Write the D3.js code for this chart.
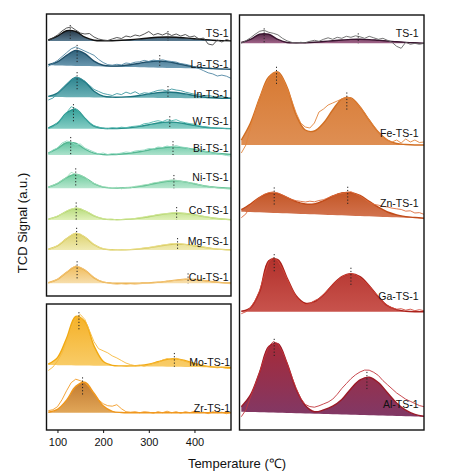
<!DOCTYPE html>
<html><head><meta charset="utf-8">
<script src="https://cdn.jsdelivr.net/npm/d3@7"></script>
<style>body{margin:0;background:#fff}svg{display:block;font-family:Arial,"Liberation Sans",sans-serif}</style>
</head><body><svg id="c" width="473" height="476"></svg>
<script>
// ---------------- DATA ----------------
const fitT = [80,100,120,140,160,180,200,220,240,260,280,300,320,340,360,380,400,420,440,460,480];
const rawT = [80,90,100,110,120,130,140,150,160,170,180,190,200,210,220,230,240,250,260,270,280,290,300,310,320,330,340,350,360,370,380,390,400,410,420,430,440,450,460,470,480];
const xTicks = [100,200,300,400];

const seriesNames = ["TS-1","La-TS-1","In-TS-1","W-TS-1","Bi-TS-1","Ni-TS-1","Co-TS-1","Mg-TS-1","Cu-TS-1","Mo-TS-1","Zr-TS-1","TS-1","Fe-TS-1","Zn-TS-1","Ga-TS-1","Al-TS-1"];
const seriesPanel = ["tl","tl","tl","tl","tl","tl","tl","tl","tl","bl","bl","r","r","r","r","r"];
// stacking offset of each trace (a.u.)
const seriesOffset = [255,228.7,198.5,167.3,141,107.7,76,46,12.7,64,17.3,386.7,285,215,118.3,15.8];
// baseline drift at 80 and 480 C (a.u.)
const seriesDrift = [[0,0],[2,-2],[0.5,-1],[0,0],[0,0],[0,0],[0,0],[0,0],[0,0],[1,-1.5],[0,0],[0,0],[0,0],[3.3,-3.3],[0,0],[2.5,-2.5]];
// peak positions (C)
const seriesPeaks = [[128,342],[143,324],[143,342],[135,346],[129,353],[140,355],[141,361],[142,363],[143,386],[147,356],[155],[130,336],[157,311],[152,313],[152,320],[152,355]];

// fitted curves (a.u. above baseline) at fitT
const fit_TS1 = [1.0,4.9,10.3,9.5,3.8,0.8,0.2,0.3,0.7,1.3,2.1,3.0,3.7,4.0,3.8,3.1,2.3,1.5,0.8,0.4,0.2];
const fit_La  = [0.7,3.6,10.3,15.5,12.5,5.2,1.2,0.7,1.2,2.4,4.1,5.8,6.7,6.3,4.9,3.1,1.6,0.7,0.3,0.1,0];
const fit_In  = [0.6,4,12.6,19.8,15.6,6.1,1.4,0.4,0.5,1.1,2.3,3.9,5.3,6,5.5,4.2,2.6,1.3,0.6,0.2,0.1];
const fit_W   = [0.9,5.6,15.9,19.5,10.5,2.5,0.4,0.2,0.4,1.1,2.3,4,5.7,6.6,6.3,5,3.3,1.7,0.8,0.3,0.1];
const fit_Bi  = [1.9,6.7,12.2,11.8,6,1.8,0.4,0.4,1,1.9,3.3,5,6.7,7.8,7.9,7.1,5.6,3.8,2.3,1.2,0.6];
const fit_Ni  = [1.2,4.7,10.6,14,10.6,4.7,1.2,0.2,0.3,0.8,1.9,3.5,5.5,7.1,7.4,6.4,4.5,2.6,1.3,0.5,0.2];
const fit_Co  = [0.9,3.7,8.7,11.7,9.1,4.1,1.1,0.4,0.4,0.9,1.9,3.3,5,6.4,7,6.5,5.2,3.5,2,1,0.4];
const fit_Mg  = [0.8,4.1,11.3,16.6,12.9,5.3,1.1,0.2,0.1,0.4,1.1,2.2,3.8,5.3,6,5.6,4.3,2.7,1.4,0.6,0.2];
const fit_Cu  = [0.7,3.9,11,16.6,13.2,5.5,1.2,0.2,0.1,0.1,0.2,0.4,1,2.1,3.2,4,3.8,2.8,1.6,0.7,0.3];
const fit_Mo  = [1,7.5,27,49,44,19.8,4.4,0.5,0.1,0.2,0.8,2.2,4.7,7.2,7.9,6.3,3.6,1.5,0.4,0.1,0];
const fit_Zr  = [0.5,3.3,12.6,26.3,30.4,19.5,6.9,1.4,0.2,0,0,0,0,0,0,0,0,0,0,0,0];
const fit_TS1r= [0.8,3.9,9,9,3.9,0.8,0.4,0.6,1.1,1.8,2.6,3.3,3.9,4,3.7,3,2.3,1.5,0.9,0.5,0.2];
const fit_Fe  = [5,22,47,68,73,58,30,15,14,22,35,46,47,38,25,13,5,1.5,0.5,0,0];
const fit_Zn  = [2,8,15,19.5,19.5,16,12,10,10.5,14,19,22.5,23,20.5,15,9.5,5,2.5,1,0.4,0];
const fit_Ga  = [0.5,4,20,51,52,34,16,8.5,10,17,27,35,38,35,26,15,6,2,0.5,0,0];
const fit_Al  = [5,17,40,66,69,50,24,8,2,4,8,15,26,35,38,33,23,13,6,2,0.5];

// measured signals (a.u. above baseline) at rawT
const raw_TS1 = [0.5,3,6,10,13,14,11,8,7,7.5,4,2,1,0.5,2,3.5,2.5,5,4,6,5,7,9.5,6,7.5,6,8,5.5,7,5,6.5,4,5,2,3,-3,-4,1,-1,1.5,0];
const raw_La  = [-1,2,5,9,13,17,19,17,15,13,11,7,4,2,1.5,2.5,2,4,3.5,5,5.5,7,6,7.5,7,8,7,6.5,6,4.5,4,3,1.5,0,-2,-4,-5,-7,-6,-7,-9];
const raw_In  = [-3,-1,3,8,13,17,20,19,16,12,8,6,4,3,2,4,3,5.5,4,6,3.5,5,4.5,6,7.5,8,7,9,8,7.5,6,5,4,3.5,2.5,3,2,1.5,2,1,0.5];
const raw_W   = [0,2,6,10,16,22,20,15,10,6,3,1.5,0.5,0,1,0.5,1.5,1,2,2.5,3,5,5.5,7,8,7,9,8,9,7,6,5,4.5,3,2,1.5,1,0.5,0.5,0,0];
const raw_Bi  = [1,5,7,12,14,13,10,11,7,5,3,1,2,0.5,1.5,1,2,3,2.5,4,4.5,5,6.5,6,8,7.5,9,8,9.5,8,7.5,6,6.5,4.5,4,3,2,1.5,0.5,-0.5,-1];
const raw_Ni  = [1,3,5,8,11,16,14,13,11,7,5,3,1.5,1,0,1,-0.5,1,0.5,2,2.5,3.5,4,5.5,6,7,7.5,8.5,8,7,6.5,5.5,5,3.5,2.5,2,1,0.5,0,-0.5,-1];
const raw_Co  = [0.5,2,4,6,9,11,12,11.5,9,7,4.5,2.5,1.5,0.5,1,0,0.5,1,1,1.5,2.5,3,4,4.5,5.5,6,6.5,7,7.5,7,6.5,6,5,4.5,3.5,3,2,1.5,1,0.5,0];
const raw_Mg  = [0.5,2,4.5,8,11.5,15,17,16,13,9.5,5.5,3,1.5,0.5,0,0.5,0,0.5,0.5,1,1.5,2,2.5,3.5,4,5,5.5,6.5,6,6.5,5.5,5,4.5,3.5,3,2,1.5,1,0.5,0,0];
const raw_Cu  = [0,2,4,7.5,11,15,17.5,16,13.5,9.5,6,3,1.5,0.5,-0.5,-1,-0.5,-1,-0.5,-1,-0.5,0,0,0.5,1,1.5,2,2.5,3,3.5,4,4,3.5,3.5,3,2,1.5,1,0.5,0,-0.5];
const raw_Mo  = [-5.5,-2,4,12,24,37,47,51,46,35,24,17,15,13,10,8,5.5,3,1.5,0.5,1,0,1.5,3,4,6.5,8,7,8.5,7,5.5,4,3,2,1,0.5,0,-0.5,0,-1,-1];
const raw_Zr  = [2,3,6,13,22,30,33.5,32,30,25,19,13,9,7,6.5,8,4,1,0.5,1,0,1,0.5,-0.5,1,0,1.5,0,1,-0.5,1,0,1.5,0,0.5,-1,1,0,0.5,-1,0.5];
const raw_TS1r= [0,2.5,5.5,9,12,13,11,10,8.5,5,2.5,1,0,1,0.5,2,3,2,4,5.5,4,6,5,7,6,7.5,6.5,5,7,5.5,4,5,3,1,-3,-5,1,-1,0,-1,0];
const raw_Fe  = [-8,0,17,33,47,58,67,72,73,67,57,45,32,22,18,17,22,33,36,40,42,44,46,48,47,43,38,32,25,19,13,8,5,3,5,2,6,3,5,2.5,3];
const raw_Zn  = [-6,-2,6,11,15,18,20,21,20,18,16,14,13,12.5,12,13,12.5,14,15,17,19,21,22,23,24,22,20,17,14,12,11.5,10.5,10,9,8.5,8,6.5,7,5,5.5,4];
const raw_Ga  = [-2,0,4,11,21,36,50,54,51,43,33,23,15,10,7,8,11,13,17,22,27,31,35,37,38,37,34,30,26,20,15,10,6,4,2.5,3,1.5,2.5,1,2,1];
const raw_Al  = [-5,2,15,27,40,54,66,71,69,61,50,37,25,15,9,7,6.5,8,10,12,15,20,26,31,36,40,43,45,45,43,40,35,31,27,23,20,17,15,13,11,10];

const seriesFit = [fit_TS1,fit_La,fit_In,fit_W,fit_Bi,fit_Ni,fit_Co,fit_Mg,fit_Cu,fit_Mo,fit_Zr,fit_TS1r,fit_Fe,fit_Zn,fit_Ga,fit_Al];
const seriesRaw = [raw_TS1,raw_La,raw_In,raw_W,raw_Bi,raw_Ni,raw_Co,raw_Mg,raw_Cu,raw_Mo,raw_Zr,raw_TS1r,raw_Fe,raw_Zn,raw_Ga,raw_Al];

// ---------------- STYLE / LAYOUT ----------------
const fillTop = ["#152838","#205571","#1c7a86","#279a93","#55bf99","#66c898","#b3d974","#dacf63","#efb750","#f4ab18","#bd7020","#48193a","#d46f22","#bf4a16","#ad221c","#a01a29"];
const fillBot = ["#4f7289","#6a9bb4","#64aeb3","#7bc9bf","#a6e0c8","#b0e5ca","#def0b4","#efe9ad","#f6dca6","#f8c95e","#dfa04c","#9a5880","#dc8646","#d06a44","#c4463f","#77295a"];
const strokeC = ["#111","#1f4f69","#1d737e","#27918b","#55b893","#62c194","#b0d46e","#d6c95f","#eab04a","#f1a912","#ef961b","#3a1530","#d06e22","#c04a18","#ab221c","#9a1a28"];
const rawC    = ["#444","#4f86a3","#3f9aa1","#4fb6ad","#90d9bf","#9edcb9","#d2e696","#ebe08c","#f3c57a","#f6b93c","#f39b24","#666","#e2843c","#dc6c3c","#d04a3c","#c2363c"];
const labelLift = [8,5,4.5,8,7,11,10,9.3,6.6,5,4.7,10,12,15,15.7,12];

const panels = {
  tl:{x0:46.5,x1:231,y0:14,y1:296,labelX:228.5},
  bl:{x0:46.5,x1:231,y0:304,y1:430,labelX:230},
  r: {x0:239.5,x1:424,y0:15,y1:430,labelX:418.5}
};
const xDomain = [76,480];

const svg = d3.select("#c");
const defs = svg.append("defs");

Object.entries(panels).forEach(([k,p])=>{
  p.x = d3.scaleLinear().domain(xDomain).range([p.x0,p.x1]);
  p.y = d3.scaleLinear().domain([0,p.y1-p.y0]).range([p.y1,p.y0]);
  defs.append("clipPath").attr("id","clip-"+k).append("rect")
    .attr("x",p.x0).attr("y",p.y0).attr("width",p.x1-p.x0).attr("height",p.y1-p.y0);
  p.g = svg.append("g").attr("clip-path",`url(#clip-${k})`);
});

seriesNames.forEach((name,i)=>{
  const p = panels[seriesPanel[i]];
  const off = seriesOffset[i];
  const drift = d3.scaleLinear().domain([80,480]).range(seriesDrift[i]);
  const fitAt = d3.scaleLinear().domain(fitT).range(seriesFit[i]);
  const fitPts = fitT.map((t,j)=>({t, v:seriesFit[i][j]}));
  const rawPts = rawT.map((t,j)=>({t, v:seriesRaw[i][j]}));
  const gid = "grad"+i;
  const gr = defs.append("linearGradient").attr("id",gid).attr("x1",0).attr("y1",0).attr("x2",0).attr("y2",1);
  gr.append("stop").attr("offset","0%").attr("stop-color",fillTop[i]);
  gr.append("stop").attr("offset","100%").attr("stop-color",fillBot[i]);
  const curve = d3.curveCatmullRom.alpha(0.5);
  const area = d3.area().curve(curve)
    .x(d=>p.x(d.t)).y0(d=>p.y(off+drift(d.t))).y1(d=>p.y(off+drift(d.t)+d.v));
  const line = d3.line().curve(curve).x(d=>p.x(d.t)).y(d=>p.y(off+drift(d.t)+d.v));
  const rawLine = d3.line().x(d=>p.x(d.t)).y(d=>p.y(off+drift(d.t)+d.v));
  p.g.append("path").datum(fitPts).attr("d",area).attr("fill",`url(#${gid})`).attr("fill-opacity",0.93);
  p.g.append("path").datum(fitPts).attr("d",line).attr("fill","none").attr("stroke",strokeC[i]).attr("stroke-width",1.4);
  p.g.append("path").datum(rawPts).attr("d",rawLine).attr("fill","none").attr("stroke",rawC[i]).attr("stroke-width",0.9).attr("stroke-linejoin","round");
  // dotted peak markers
  seriesPeaks[i].forEach(t=>{
    const h = fitAt(t), b = off+drift(t);
    p.g.append("line").attr("x1",p.x(t)).attr("x2",p.x(t))
      .attr("y1",p.y(b+h+6)).attr("y2",p.y(b+Math.max(0,h-13)))
      .attr("stroke","#222").attr("stroke-width",1).attr("stroke-dasharray","1.2,2");
  });
  // label
  svg.append("text").attr("x",p.labelX).attr("y",p.y(off+drift(460)+labelLift[i]))
    .attr("text-anchor","end").attr("dominant-baseline","central")
    .attr("font-size",10.5).attr("fill","#111").text(name);
});

// frames
Object.values(panels).forEach(p=>{
  svg.append("rect").attr("x",p.x0).attr("y",p.y0).attr("width",p.x1-p.x0).attr("height",p.y1-p.y0)
    .attr("fill","none").attr("stroke","#111").attr("stroke-width",1.4);
});

// x axis on lower-left panel
const pb = panels.bl;
const ax = d3.axisBottom(pb.x).tickValues(xTicks).tickSize(3).tickFormat(d3.format("d"));
const axG = svg.append("g").attr("transform",`translate(0,${pb.y1})`).call(ax);
axG.select(".domain").remove();
axG.selectAll("line").attr("stroke","#111");
axG.selectAll("text").attr("font-size",11).attr("fill","#111").attr("dy","0.9em")
  .attr("font-family","Arial, 'Liberation Sans', sans-serif");

svg.append("text").attr("x",237).attr("y",463).attr("text-anchor","middle")
  .attr("dominant-baseline","central").attr("font-size",13).attr("fill","#111").text("Temperature (℃)");
svg.append("text").attr("transform","translate(22,223) rotate(-90)").attr("text-anchor","middle")
  .attr("dominant-baseline","central").attr("font-size",13).attr("fill","#111").text("TCD Signal (a.u.)");
</script></body></html>
